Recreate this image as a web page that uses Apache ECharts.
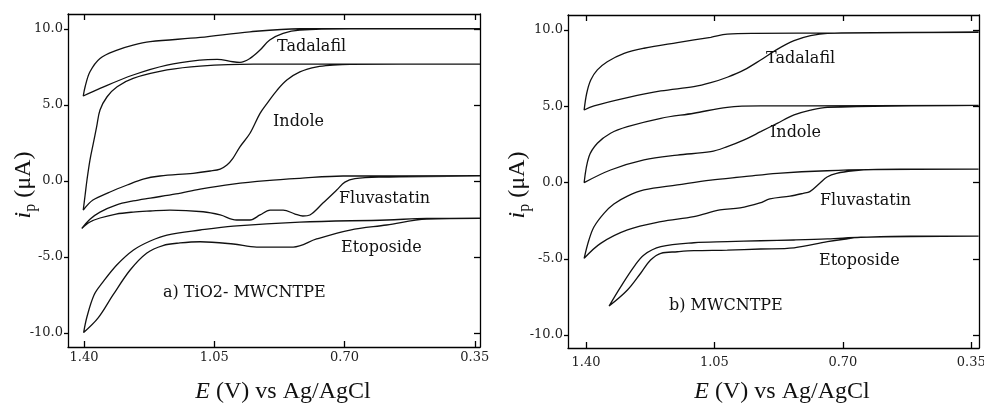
<!DOCTYPE html>
<html><head><meta charset="utf-8">
<script src="https://cdn.jsdelivr.net/npm/echarts@6/dist/echarts.min.js"></script>
<style>html,body{margin:0;padding:0;background:#fff}#c{width:984px;height:406px}</style>
</head><body><div id="c"></div>
<script>
// Tick values
const xTicks = [1.40, 1.05, 0.70, 0.35];
const yTicks = [-10, -5, 0, 5, 10];

// ---- Panel a) TiO2-MWCNTPE : each loop = branch 1 (right -> 1.40 V) + branch 2 (1.40 V -> right)
const taA_V1 = [0.336, 0.820, 0.954, 1.088, 1.222, 1.268, 1.311, 1.357, 1.384, 1.397, 1.402];
const taA_I1 = [10.0, 10.0, 9.80, 9.43, 9.15, 8.93, 8.60, 8.05, 7.17, 6.19, 5.58];
const taA_V2 = [1.357, 1.268, 1.177, 1.088, 1.042, 1.000, 0.981, 0.954, 0.927, 0.901, 0.865, 0.820, 0.685, 0.336];
const taA_I2 = [6.08, 6.96, 7.61, 7.94, 7.99, 7.83, 7.79, 8.05, 8.60, 9.26, 9.70, 9.91, 9.99, 9.99];

const inA_V1 = [0.336, 0.945, 1.088, 1.177, 1.268, 1.311, 1.338, 1.357, 1.366, 1.375, 1.384, 1.392, 1.397, 1.402];
const inA_I1 = [7.68, 7.68, 7.55, 7.29, 6.74, 6.19, 5.53, 4.66, 3.56, 2.47, 1.37, 0.06, -0.93, -1.92];
const inA_V2 = [1.376, 1.330, 1.284, 1.241, 1.196, 1.107, 1.061, 1.034, 1.016, 1.000, 0.981, 0.954, 0.927, 0.908, 0.881, 0.855, 0.820, 0.774, 0.731, 0.685, 0.336];
const inA_I2 = [-1.26, -0.73, -0.27, 0.12, 0.32, 0.50, 0.65, 0.78, 1.04, 1.48, 2.24, 3.13, 4.44, 5.10, 5.97, 6.63, 7.17, 7.50, 7.61, 7.66, 7.68];

const fuA_V1 = [0.336, 0.704, 0.820, 0.909, 1.000, 1.088, 1.153, 1.222, 1.268, 1.314, 1.357, 1.384, 1.406];
const fuA_I1 = [0.34, 0.32, 0.17, 0.02, -0.21, -0.54, -0.86, -1.13, -1.32, -1.59, -2.05, -2.52, -3.13];
const fuA_V2 = [1.384, 1.357, 1.314, 1.268, 1.222, 1.169, 1.080, 1.034, 0.990, 0.954, 0.927, 0.900, 0.865, 0.833, 0.812, 0.793, 0.758, 0.721, 0.699, 0.672, 0.605, 0.336];
const fuA_I2 = [-2.70, -2.44, -2.18, -2.05, -1.98, -1.92, -2.03, -2.24, -2.57, -2.57, -2.24, -1.92, -1.92, -2.18, -2.31, -2.24, -1.46, -0.60, -0.08, 0.15, 0.25, 0.32];

const etA_V1 = [0.336, 0.479, 0.586, 0.820, 0.999, 1.088, 1.177, 1.222, 1.267, 1.312, 1.351, 1.373, 1.392, 1.401];
const etA_I1 = [-2.46, -2.47, -2.57, -2.71, -2.97, -3.23, -3.56, -3.95, -4.54, -5.53, -6.71, -7.50, -8.93, -9.97];
const etA_V2 = [1.362, 1.322, 1.276, 1.231, 1.188, 1.142, 1.088, 0.999, 0.936, 0.838, 0.775, 0.685, 0.587, 0.479, 0.336];
const etA_I2 = [-9.01, -7.50, -5.86, -4.74, -4.25, -4.08, -4.00, -4.15, -4.35, -4.35, -3.82, -3.23, -2.90, -2.51, -2.46];

// ---- Panel b) MWCNTPE
const taB_V1 = [0.33, 0.942, 1.015, 1.060, 1.151, 1.242, 1.296, 1.342, 1.369, 1.387, 1.398, 1.405];
const taB_I1 = [9.85, 9.78, 9.72, 9.52, 9.17, 8.80, 8.47, 7.92, 7.38, 6.72, 5.85, 4.75];
const taB_V2 = [1.378, 1.287, 1.196, 1.106, 1.060, 1.015, 0.969, 0.924, 0.879, 0.833, 0.788, 0.742, 0.33];
const taB_I2 = [5.02, 5.56, 6.00, 6.28, 6.54, 6.90, 7.38, 8.03, 8.73, 9.30, 9.63, 9.78, 9.85];

const inB_V1 = [0.33, 0.806, 0.924, 1.015, 1.106, 1.196, 1.287, 1.333, 1.369, 1.392, 1.405];
const inB_I1 = [5.06, 5.02, 5.02, 4.93, 4.54, 4.21, 3.66, 3.23, 2.57, 1.69, -0.01];
const inB_V2 = [1.333, 1.242, 1.151, 1.060, 1.015, 0.969, 0.924, 0.879, 0.833, 0.788, 0.742, 0.33];
const inB_I2 = [0.82, 1.48, 1.80, 2.02, 2.35, 2.79, 3.33, 3.88, 4.43, 4.75, 4.93, 5.06];

const fuB_V1 = [0.33, 0.544, 0.743, 0.879, 0.969, 1.060, 1.151, 1.242, 1.287, 1.324, 1.351, 1.378, 1.392, 1.405];
const fuB_I1 = [0.87, 0.87, 0.77, 0.60, 0.38, 0.16, -0.16, -0.49, -0.89, -1.41, -2.02, -2.90, -3.77, -4.97];
const fuB_V2 = [1.360, 1.287, 1.196, 1.106, 1.035, 0.980, 0.926, 0.899, 0.844, 0.808, 0.790, 0.763, 0.743, 0.717, 0.672, 0.617, 0.33];
const fuB_I2 = [-3.99, -3.11, -2.57, -2.24, -1.80, -1.67, -1.34, -1.08, -0.89, -0.71, -0.60, -0.05, 0.36, 0.60, 0.77, 0.85, 0.87];

const etB_V1 = [0.33, 0.515, 0.651, 0.742, 0.833, 0.924, 1.015, 1.106, 1.196, 1.242, 1.269, 1.305, 1.337];
const etB_I1 = [-3.51, -3.51, -3.59, -3.70, -3.77, -3.82, -3.88, -3.95, -4.21, -4.75, -5.52, -6.83, -8.10];
const etB_V2 = [1.287, 1.251, 1.224, 1.196, 1.151, 1.106, 1.015, 0.924, 0.833, 0.742, 0.697, 0.651, 0.33];
const etB_I2 = [-7.05, -5.95, -5.08, -4.64, -4.54, -4.47, -4.43, -4.36, -4.28, -3.88, -3.72, -3.59, -3.51];

const compounds = ['Tadalafil', 'Indole', 'Fluvastatin', 'Etoposide'];

function loop(v1, i1, v2, i2) {
  const d = [];
  for (let k = 0; k < v1.length; k++) d.push([v1[k], i1[k]]);
  for (let k = 0; k < v2.length; k++) d.push([v2[k], i2[k]]);
  return d;
}

const curvesA = [
  loop(taA_V1, taA_I1, taA_V2, taA_I2),
  loop(inA_V1, inA_I1, inA_V2, inA_I2),
  loop(fuA_V1, fuA_I1, fuA_V2, fuA_I2),
  loop(etA_V1, etA_I1, etA_V2, etA_I2)
];
const curvesB = [
  loop(taB_V1, taB_I1, taB_V2, taB_I2),
  loop(inB_V1, inB_I1, inB_V2, inB_I2),
  loop(fuB_V1, fuB_I1, fuB_V2, fuB_I2),
  loop(etB_V1, etB_I1, etB_V2, etB_I2)
];

const SERIF = 'DejaVu Serif';
const TIMES = 'Liberation Serif';
const INK = '#111';
const lineSt = { color: '#000', width: 1.3 };

const panels = [
  { left: 68, top: 14, width: 412, height: 333, xMin: 0.336, xMax: 1.443, yMin: -10.92, yMax: 10.97, labMargin: 4 },
  { left: 568, top: 15, width: 411, height: 333, xMin: 0.329, xMax: 1.449, yMin: -10.85, yMax: 10.98, labMargin: 8 }
];

const grid = [], xAxis = [], yAxis = [];
panels.forEach((p, g) => {
  grid.push({ left: p.left, top: p.top, width: p.width, height: p.height, containLabel: false, outerBoundsMode: 'none' });
  const xBase = {
    gridIndex: g, type: 'value', inverse: true, min: p.xMin, max: p.xMax,
    axisLine: { show: true, onZero: false, lineStyle: lineSt },
    splitLine: { show: false }
  };
  xAxis.push(Object.assign({}, xBase, {
    position: 'bottom',
    axisTick: { show: true, inside: true, length: 6, customValues: xTicks, lineStyle: lineSt },
    axisLabel: { customValues: xTicks, formatter: v => v.toFixed(2), fontFamily: SERIF, fontSize: 13, color: '#222', margin: p.labMargin }
  }));
  xAxis.push(Object.assign({}, xBase, {
    position: 'top',
    axisTick: { show: true, inside: true, length: 6, customValues: xTicks, lineStyle: lineSt },
    axisLabel: { show: false }
  }));
  const yBase = {
    gridIndex: g, type: 'value', min: p.yMin, max: p.yMax,
    axisLine: { show: true, onZero: false, lineStyle: lineSt },
    splitLine: { show: false }
  };
  yAxis.push(Object.assign({}, yBase, {
    position: 'left',
    axisTick: { show: true, inside: false, length: 4, customValues: yTicks, lineStyle: lineSt },
    axisLabel: { customValues: yTicks, formatter: v => v.toFixed(1), fontFamily: SERIF, fontSize: 13, color: '#222', margin: 5 }
  }));
  yAxis.push(Object.assign({}, yBase, {
    position: 'right',
    axisTick: { show: true, inside: true, length: 6, customValues: yTicks, lineStyle: lineSt },
    axisLabel: { show: false }
  }));
});

const series = [];
[curvesA, curvesB].forEach((curves, g) => {
  curves.forEach((d, k) => {
    series.push({
      name: compounds[k] + (g ? ' b' : ' a'), type: 'line', xAxisIndex: g * 2, yAxisIndex: g * 2,
      data: d, showSymbol: false, symbol: 'none', smooth: 0.35, clip: true,
      lineStyle: { color: INK, width: 1.3 }, silent: true, animation: false
    });
  });
});

function txt(x, y, s, size, align) {
  return { type: 'text', x: x, y: y, silent: true,
    style: { text: s, fontFamily: SERIF, fontSize: size, fill: INK, align: align || 'left', verticalAlign: 'middle' } };
}
function xTitle(cx) {
  return { type: 'text', x: cx, y: 392, silent: true,
    style: { text: '{e|E}{n| (V) vs Ag/AgCl}', align: 'center', verticalAlign: 'middle',
      rich: { e: { fontFamily: TIMES, fontSize: 24, fontStyle: 'italic', fill: INK },
              n: { fontFamily: TIMES, fontSize: 24, fill: INK } } } };
}
function yTitle(cx) {
  return { type: 'text', x: cx, y: 185, rotation: Math.PI / 2, silent: true,
    style: { text: '{i|i}{p|p}{n| (μA)}', align: 'center', verticalAlign: 'middle',
      rich: { i: { fontFamily: TIMES, fontSize: 24, fontStyle: 'italic', fill: INK, lineHeight: 30 },
              p: { fontFamily: TIMES, fontSize: 16, fill: INK, lineHeight: 16, verticalAlign: 'bottom' },
              n: { fontFamily: TIMES, fontSize: 24, fill: INK, lineHeight: 30 } } } };
}

const graphic = [
  txt(277, 47, 'Tadalafil', 16), txt(273, 122, 'Indole', 16), txt(339, 199, 'Fluvastatin', 16),
  txt(341, 248, 'Etoposide', 16), txt(163, 293, 'a) TiO2- MWCNTPE', 16),
  txt(766, 59, 'Tadalafil', 16), txt(770, 133, 'Indole', 16), txt(820, 201, 'Fluvastatin', 16),
  txt(819, 261, 'Etoposide', 16), txt(669, 306, 'b) MWCNTPE', 16),
  xTitle(283), xTitle(782), yTitle(24), yTitle(518)
];

const chart = echarts.init(document.getElementById('c'), null, { renderer: 'canvas' });
chart.setOption({ backgroundColor: '#fff', animation: false, grid, xAxis, yAxis, series, graphic });
</script></body></html>
